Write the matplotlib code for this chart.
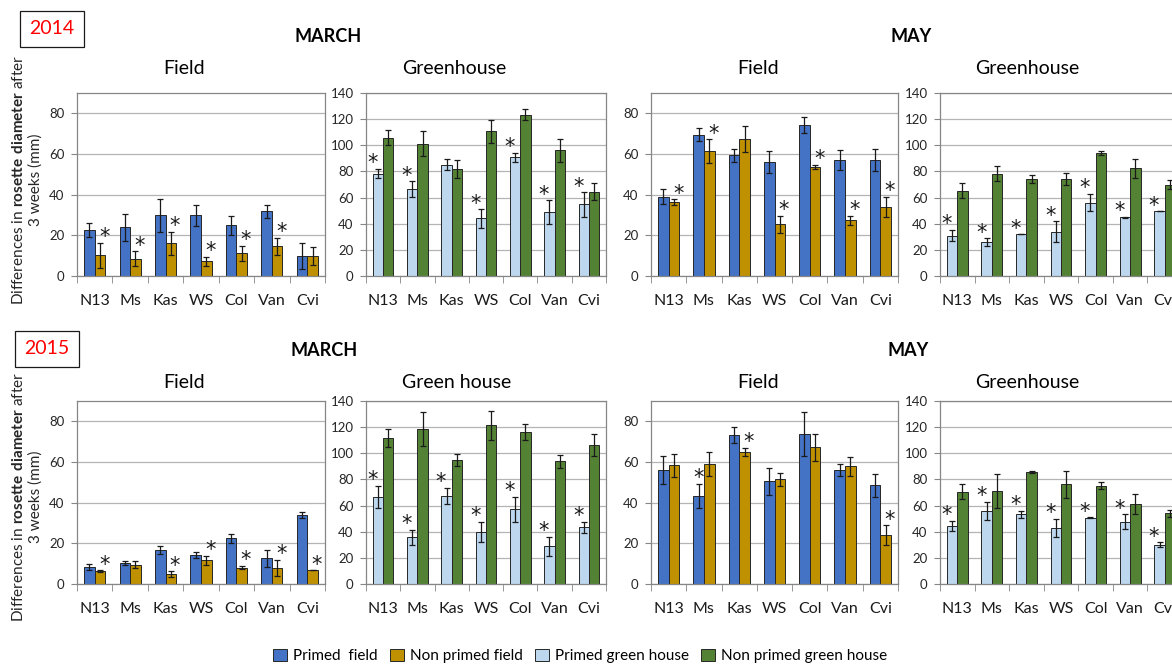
import numpy as np
import matplotlib
matplotlib.use('Agg')
import matplotlib.pyplot as plt
from matplotlib.patches import Patch

plt.rcParams['font.family'] = ['Lato', 'DejaVu Sans']
plt.rcParams['mathtext.fontset'] = 'custom'
plt.rcParams['mathtext.rm'] = 'Lato'
plt.rcParams['mathtext.bf'] = 'Lato:bold'

genotypes = ['N13', 'Ms', 'Kas', 'WS', 'Col', 'Van', 'Cvi']

# 2014 - March
mar14_field_p = [22.6, 23.9, 29.8, 29.8, 24.9, 31.8, 9.8]
mar14_field_p_err = [3.6, 6.5, 8.0, 5.2, 4.7, 3.3, 6.2]
mar14_field_np = [10.2, 8.5, 16.1, 7.2, 11.1, 14.6, 9.8]
mar14_field_np_err = [6.2, 3.6, 5.7, 2.3, 3.5, 4.1, 4.3]
mar14_field_star = ['n', 'n', 'n', 'n', 'n', 'n', '']

mar14_gh_p = [78.4, 66.2, 85.2, 44.0, 90.8, 48.9, 54.7]
mar14_gh_p_err = [3.3, 6.1, 4.1, 6.9, 3.6, 8.9, 9.2]
mar14_gh_np = [105.9, 101.3, 81.7, 110.7, 123.4, 96.2, 64.6]
mar14_gh_np_err = [6.0, 9.4, 6.9, 8.9, 4.3, 8.7, 6.6]
mar14_gh_star = ['p', 'p', '', 'p', 'p', 'p', 'p']

# 2014 - May
may14_field_p = [39.0, 69.5, 59.3, 56.1, 74.3, 57.0, 57.0]
may14_field_p_err = [3.6, 3.1, 3.0, 5.4, 3.9, 5.0, 5.3]
may14_field_np = [36.2, 61.5, 67.4, 25.4, 53.6, 27.4, 34.1]
may14_field_np_err = [1.5, 5.7, 6.2, 4.3, 1.0, 2.3, 4.9]
may14_field_star = ['n', 'n', '', 'n', 'n', 'n', 'n']

may14_gh_p = [30.8, 25.7, 31.8, 33.8, 56.2, 44.8, 49.4]
may14_gh_p_err = [4.3, 3.1, 0.0, 7.9, 6.4, 0.5, 0.0]
may14_gh_np = [65.4, 78.4, 74.3, 74.3, 94.1, 82.4, 70.0]
may14_gh_np_err = [6.1, 5.8, 3.3, 4.8, 1.8, 7.4, 3.8]
may14_gh_star = ['p', 'p', 'p', 'p', 'p', 'p', 'p']

# 2015 - March
mar15_field_p = [8.2, 10.1, 16.8, 14.4, 22.4, 12.7, 34.0]
mar15_field_p_err = [1.5, 1.0, 2.0, 1.5, 2.4, 4.1, 1.6]
mar15_field_np = [6.2, 9.5, 4.9, 11.6, 8.0, 8.0, 6.7]
mar15_field_np_err = [0.5, 1.8, 1.3, 2.4, 0.8, 3.9, 0.0]
mar15_field_star = ['n', '', 'n', 'n', 'n', 'n', 'n']

mar15_gh_p = [66.7, 35.6, 67.4, 40.0, 57.0, 28.8, 43.3]
mar15_gh_p_err = [8.6, 5.6, 6.1, 7.8, 9.7, 7.3, 4.5]
mar15_gh_np = [111.7, 118.6, 94.7, 121.4, 116.5, 93.9, 106.4]
mar15_gh_np_err = [6.9, 13.0, 4.8, 11.0, 6.1, 4.8, 8.1]
mar15_gh_star = ['p', 'p', 'p', 'p', 'p', 'p', 'p']

# 2015 - May
may15_field_p = [56.2, 43.3, 73.3, 50.5, 73.9, 56.2, 48.5]
may15_field_p_err = [6.9, 6.0, 4.1, 6.5, 10.8, 3.0, 5.7]
may15_field_np = [58.4, 58.9, 64.9, 51.5, 67.2, 57.9, 23.9]
may15_field_np_err = [5.6, 6.0, 2.1, 3.3, 6.7, 4.7, 4.9]
may15_field_star = ['', 'p', 'n', '', '', '', 'n']

may15_gh_p = [44.5, 55.7, 53.2, 43.0, 50.6, 47.6, 30.0]
may15_gh_p_err = [3.6, 7.1, 2.8, 6.9, 0.3, 5.6, 1.8]
may15_gh_np = [70.7, 71.5, 85.8, 76.3, 75.1, 61.3, 54.0]
may15_gh_np_err = [5.6, 13.0, 0.8, 10.2, 2.8, 7.7, 2.5]
may15_gh_star = ['p', 'p', 'p', 'p', 'p', 'p', 'p']

legend_labels = ['Primed  field', 'Non primed field', 'Primed green house', 'Non primed green house']

C_FIELD_P = '#4472C4'
C_FIELD_NP = '#BF9000'
C_GH_P = '#BDD7EE'
C_GH_NP = '#548235'

W, H = 1172, 664


def draw_panel(ax, p, p_err, np_, np_err, stars, colors, ymax, star_dx):
    x = np.arange(len(genotypes))
    w = 0.3
    ekw = dict(ecolor='#1a1a1a', elinewidth=0.9, capsize=2.5, capthick=0.9)
    ax.bar(x - w / 2, p, w, yerr=p_err, color=colors[0], edgecolor='#262626',
           linewidth=0.7, error_kw=ekw, zorder=2)
    ax.bar(x + w / 2, np_, w, yerr=np_err, color=colors[1], edgecolor='#262626',
           linewidth=0.7, error_kw=ekw, zorder=2)
    for i, s in enumerate(stars):
        if s == 'p':
            xi, top, dx = x[i] - w / 2, p[i] + p_err[i], star_dx['p']
        elif s == 'n':
            xi, top, dx = x[i] + w / 2, np_[i] + np_err[i], star_dx['n']
        else:
            continue
        ax.annotate('*', (xi, top), xytext=(dx, -3), textcoords='offset points',
                    ha='center', va='bottom', fontsize=15, color='#1a1a1a',
                    family='DejaVu Sans')
    ax.set_xlim(-0.5, len(genotypes) - 0.5)
    ax.set_ylim(0, ymax)
    ax.set_yticks(np.arange(0, ymax + 1, 20))
    ax.set_xticks(x)
    ax.set_xticklabels(genotypes, fontsize=11.5)
    ax.set_xticks(np.arange(-0.5, len(genotypes), 1), minor=True)
    ax.tick_params(axis='x', which='major', length=0, pad=13, colors='#1a1a1a')
    ax.tick_params(axis='x', which='minor', length=5, direction='out', color='#868686')
    ax.tick_params(axis='y', length=4, direction='out', color='#868686',
                   labelsize=9.5, labelcolor='#262626', pad=5)
    ax.yaxis.grid(True, color='#b4b4b4', linewidth=0.9)
    ax.set_axisbelow(True)
    for sp in ax.spines.values():
        sp.set_color('#868686')
        sp.set_linewidth(0.9)


fig = plt.figure(figsize=(W / 100, H / 100), dpi=100)

col_left = [77, 366, 651, 940]
col_width = [248, 240, 247, 242]
row_top = [93, 401]
ax_h = 183

panels = [
    [(mar14_field_p, mar14_field_p_err, mar14_field_np, mar14_field_np_err, mar14_field_star),
     (mar14_gh_p, mar14_gh_p_err, mar14_gh_np, mar14_gh_np_err, mar14_gh_star),
     (may14_field_p, may14_field_p_err, may14_field_np, may14_field_np_err, may14_field_star),
     (may14_gh_p, may14_gh_p_err, may14_gh_np, may14_gh_np_err, may14_gh_star)],
    [(mar15_field_p, mar15_field_p_err, mar15_field_np, mar15_field_np_err, mar15_field_star),
     (mar15_gh_p, mar15_gh_p_err, mar15_gh_np, mar15_gh_np_err, mar15_gh_star),
     (may15_field_p, may15_field_p_err, may15_field_np, may15_field_np_err, may15_field_star),
     (may15_gh_p, may15_gh_p_err, may15_gh_np, may15_gh_np_err, may15_gh_star)],
]

for r in range(2):
    for c in range(4):
        ax = fig.add_axes([col_left[c] / W, 1 - (row_top[r] + ax_h) / H,
                           col_width[c] / W, ax_h / H])
        field = c in (0, 2)
        colors = (C_FIELD_P, C_FIELD_NP) if field else (C_GH_P, C_GH_NP)
        ymax = 90 if field else 140
        star_dx = {'p': 0, 'n': 3} if field else {'p': -4, 'n': 0}
        draw_panel(ax, *panels[r][c], colors, ymax, star_dx)


def ftext(x, y, s, **kw):
    fig.text(x / W, 1 - y / H, s, ha='center', va='center', **kw)


box = dict(boxstyle='square,pad=0.5', facecolor='white', edgecolor='#1a1a1a', linewidth=0.9)
ftext(52, 29, '2014', fontsize=14, color='#FF0000', bbox=box)
ftext(47, 349, '2015', fontsize=14, color='#FF0000', bbox=box)

ftext(328, 36, 'MARCH', fontsize=13, fontweight='bold')
ftext(911, 36, 'MAY', fontsize=13, fontweight='bold')
ftext(324, 350, 'MARCH', fontsize=13, fontweight='bold')
ftext(908, 350, 'MAY', fontsize=13, fontweight='bold')

ftext(184, 69, 'Field', fontsize=14)
ftext(454, 69, 'Greenhouse', fontsize=14)
ftext(758, 69, 'Field', fontsize=14)
ftext(1027, 69, 'Greenhouse', fontsize=14)
ftext(184, 383, 'Field', fontsize=14)
ftext(457, 383, 'Green house', fontsize=14)
ftext(758, 383, 'Field', fontsize=14)
ftext(1027, 383, 'Greenhouse', fontsize=14)

ylab = 'Differences in $\\bf{rosette\\ diameter}$ after\n3 weeks (mm)'
ftext(27, 180, ylab, fontsize=11, rotation=90, color='#262626', linespacing=1.2)
ftext(27, 497, ylab, fontsize=11, rotation=90, color='#262626', linespacing=1.2)

handles = [Patch(facecolor=col, edgecolor='#262626', linewidth=0.7)
           for col in (C_FIELD_P, C_FIELD_NP, C_GH_P, C_GH_NP)]
fig.legend(handles, legend_labels, loc='center', bbox_to_anchor=(580 / W, 1 - 656 / H),
           ncol=4, frameon=False, fontsize=11, handlelength=0.9, handleheight=0.9,
           handletextpad=0.4, columnspacing=0.8)

fig.savefig('out.png', dpi=100)
